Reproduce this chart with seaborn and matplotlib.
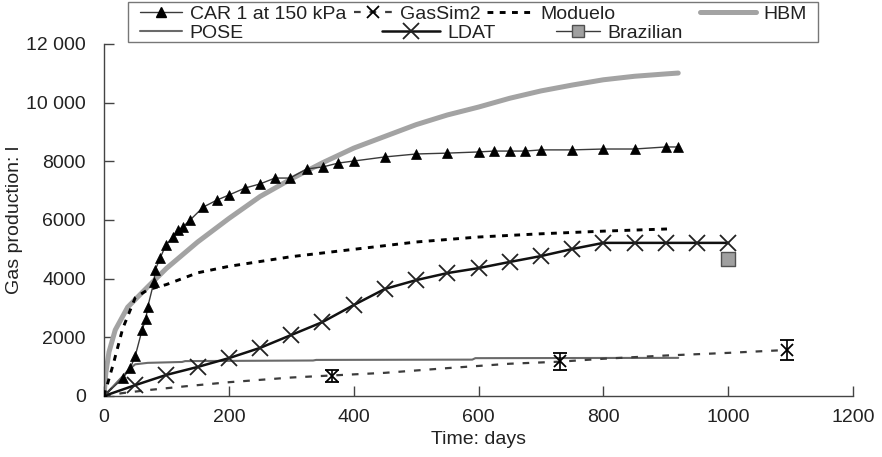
import matplotlib
matplotlib.use("Agg")
import matplotlib.pyplot as plt
import seaborn as sns
import pandas as pd
from matplotlib.lines import Line2D
from matplotlib.patches import Rectangle

# ---------------- data ----------------
car_days = [0, 30, 42, 50, 61, 67, 70, 80, 82, 90, 99, 110, 119, 126, 138, 159, 181, 200, 226,
            250, 274, 298, 325, 351, 375, 400, 450, 500, 550, 600, 625, 650, 675, 700, 750,
            800, 850, 900, 920]
car_gas = [0, 600, 950, 1360, 2250, 2620, 3030, 3890, 4300, 4700, 5150, 5420, 5660, 5760, 6000,
           6440, 6680, 6850, 7090, 7230, 7430, 7430, 7740, 7810, 7940, 8010, 8150, 8250, 8280,
           8320, 8350, 8350, 8350, 8390, 8390, 8420, 8420, 8490, 8490]

gassim_days = [0, 30, 70, 130, 200, 300, 365, 450, 550, 650, 730, 800, 900, 1000, 1095]
gassim_gas = [0, 100, 200, 330, 470, 630, 700, 790, 950, 1100, 1170, 1270, 1380, 1470, 1570]
gassim_err_days = [365, 730, 1095]
gassim_err_gas = [690, 1180, 1570]
gassim_err = [200, 290, 340]

moduelo_days = [0, 15, 30, 50, 70, 100, 150, 200, 300, 400, 500, 600, 700, 800, 910]
moduelo_gas = [0, 1100, 2300, 3350, 3620, 3800, 4200, 4420, 4750, 5000, 5250, 5420, 5530, 5620, 5700]

hbm_days = [0, 3, 8, 18, 38, 70, 100, 150, 200, 250, 300, 350, 400, 450, 500, 550, 600, 650,
            700, 750, 800, 850, 900, 920]
hbm_gas = [0, 800, 1500, 2250, 3030, 3720, 4350, 5250, 6050, 6800, 7400, 7950, 8450, 8850,
           9250, 9580, 9850, 10150, 10400, 10600, 10780, 10900, 10980, 11010]

pose_days = [0, 20, 40, 50, 70, 125, 130, 335, 340, 590, 595, 920]
pose_gas = [0, 450, 900, 1080, 1130, 1160, 1190, 1210, 1230, 1240, 1290, 1300]

ldat_days = [0, 50, 100, 150, 200, 250, 300, 350, 400, 450, 500, 550, 600, 650, 700, 750,
             800, 850, 900, 950, 1000]
ldat_gas = [0, 370, 720, 990, 1290, 1640, 2080, 2520, 3100, 3650, 3950, 4190, 4360, 4570,
            4770, 5010, 5220, 5220, 5220, 5220, 5220]

brazil_days = [1000]
brazil_gas = [4670]

x_ticks = [0, 200, 400, 600, 800, 1000, 1200]
y_ticks = [0, 2000, 4000, 6000, 8000, 10000, 12000]
y_tick_labels = ["0", "2000", "4000", "6000", "8000", "10 000", "12 000"]

labels = ["CAR 1 at 150 kPa", "GasSim2", "Moduelo", "HBM", "POSE", "LDAT", "Brazilian"]

# ---------------- style ----------------
sns.set_style("ticks")
plt.rcParams['font.family'] = ['Liberation Sans', 'DejaVu Sans']
FS = 14

W, H = 882, 457
fig = plt.figure(figsize=(W / 100, H / 100), dpi=100)
ax = fig.add_axes([104 / W, 1 - 396 / H, (853 - 104) / W, (396 - 44) / H])

# HBM
sns.lineplot(x=hbm_days, y=hbm_gas, ax=ax, color='#a3a3a3', lw=3.6, estimator=None,
             sort=False, zorder=2)
# Moduelo
sns.lineplot(x=moduelo_days, y=moduelo_gas, ax=ax, color='black', lw=2.1,
             linestyle=(0, (2, 2.2)), estimator=None, sort=False, zorder=3)
# POSE
sns.lineplot(x=pose_days, y=pose_gas, ax=ax, color='#6a6a6a', lw=1.5, estimator=None,
             sort=False, zorder=3)
# GasSim2
sns.lineplot(x=gassim_days, y=gassim_gas, ax=ax, color='#3c3c3c', lw=1.6,
             linestyle=(0, (3, 4)), estimator=None, sort=False, zorder=3)
ax.errorbar(gassim_err_days, gassim_err_gas, yerr=gassim_err, fmt='x', color='black',
            ms=8, mew=1.3, capsize=5, elinewidth=1.2, capthick=1.5, zorder=5)
# LDAT
sns.lineplot(x=ldat_days, y=ldat_gas, ax=ax, color='#111111', lw=1.8, marker='x',
             markersize=11, markeredgewidth=1.3, markeredgecolor='#222222',
             estimator=None, sort=False, zorder=4)
# CAR
sns.lineplot(x=car_days, y=car_gas, ax=ax, color='#3a3a3a', lw=1.0, marker='^',
             markersize=6.5, markerfacecolor='black', markeredgecolor='black',
             markeredgewidth=0.5, estimator=None, sort=False, zorder=5)
# Brazilian
sns.scatterplot(x=brazil_days, y=brazil_gas, ax=ax, marker='s', s=90, color='#a0a0a0',
                edgecolor='#505050', linewidth=1.0, zorder=6)

ax.set_xlim(0, 1200)
ax.set_ylim(0, 12000)
ax.set_xticks(x_ticks)
ax.set_xticklabels([str(t) for t in x_ticks])
ax.set_yticks(y_ticks)
ax.set_yticklabels(y_tick_labels)
ax.tick_params(direction='in', length=7, width=1, color='#444444', labelsize=FS,
               labelcolor='#222222')
ax.tick_params(axis='x', pad=9)
ax.tick_params(axis='y', pad=13)
sns.despine(ax=ax)
for s in ['left', 'bottom']:
    ax.spines[s].set_color('#444444')
    ax.spines[s].set_linewidth(1.0)
ax.set_xlabel("Time: days", fontsize=FS, color='#222222', labelpad=4)
ax.set_ylabel("Gas production: l", fontsize=FS, color='#222222', labelpad=2)

# ---------------- legend ----------------
h_car = Line2D([], [], color='#3a3a3a', lw=1.0, marker='^', ms=6.5, mfc='black', mec='black')
h_gs = Line2D([], [], color='#3c3c3c', lw=1.6, linestyle=(0, (3, 4)), marker='x', ms=8,
              mew=1.3, mec='black')
h_mod = Line2D([], [], color='black', lw=2.1, linestyle=(0, (2, 2.2)))
h_hbm = Line2D([], [], color='#a3a3a3', lw=3.6)
h_pose = Line2D([], [], color='#6a6a6a', lw=1.5)
h_ldat = Line2D([], [], color='#111111', lw=1.8, marker='x', ms=11, mew=1.3, mec='#222222')
h_bra = Line2D([], [], color='#3a3a3a', lw=1.0, marker='s', ms=8, mfc='#a0a0a0', mec='#505050')
handles = [h_car, h_gs, h_mod, h_hbm, h_pose, h_ldat, h_bra]

# (x of handle start, y centre, handle length in px) in figure pixels
slots = [(140, 14, 42), (354, 14, 38), (487, 14, 46), (700, 14, 56),
         (140, 33, 42), (382, 33, 58), (556, 33, 44)]
em = FS * 100 / 72
for h, lab, (x, y, hl) in zip(handles, labels, slots):
    fig.legend(handles=[h], labels=[lab], loc='center left',
               bbox_to_anchor=(x / W, 1 - y / H), frameon=False, borderpad=0,
               borderaxespad=0, handlelength=hl / em, handletextpad=0.4,
               fontsize=FS, labelcolor='#222222')

fig.patches.append(Rectangle((128 / W, 1 - 42 / H), 690 / W, 40 / H, transform=fig.transFigure,
                             fill=False, ec='#777777', lw=1.0))

fig.savefig("out.png", dpi=100)
